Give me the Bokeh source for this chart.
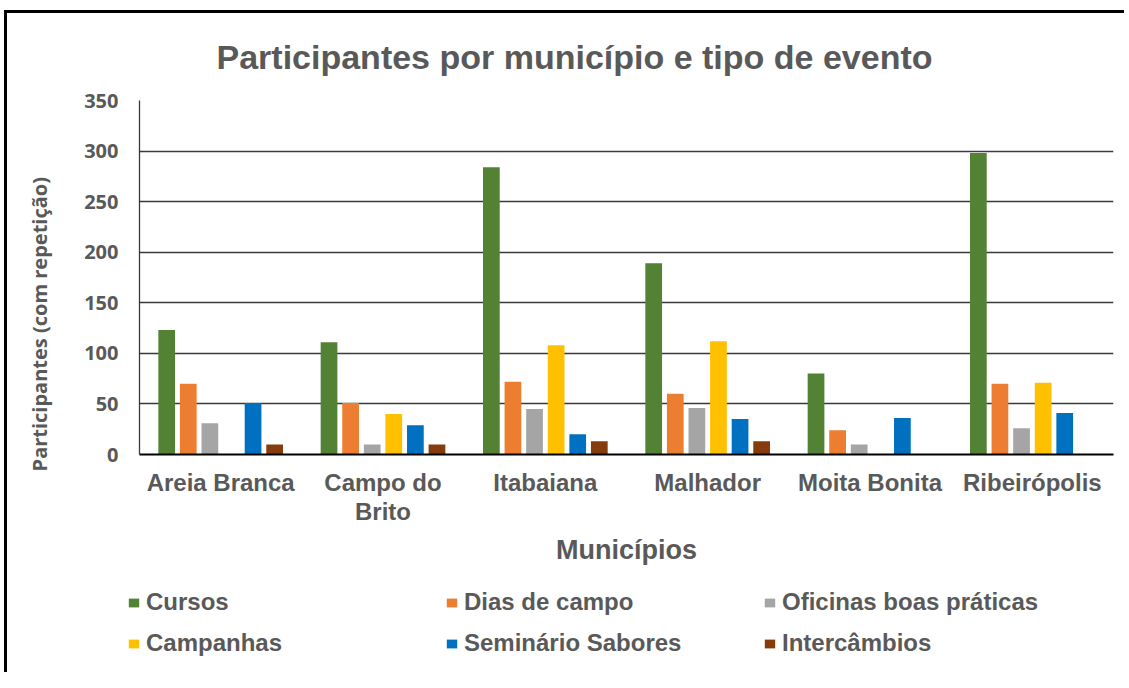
from bokeh.plotting import figure
from bokeh.models import (FactorRange, Range1d, ColumnDataSource, Legend,
                          LegendItem, FixedTicker, CategoricalAxis)
from bokeh.transform import dodge
from bokeh.embed import file_html
from bokeh.resources import INLINE

# ---------------- data ----------------
municipios = ["Areia Branca", "Campo do Brito", "Itabaiana", "Malhador",
              "Moita Bonita", "Ribeirópolis"]
# tick labels, split on two lines (blank factors are distinct whitespace strings)
tick_labels_line1 = ["Areia Branca", "Campo do", "Itabaiana", "Malhador",
                     "Moita Bonita", "Ribeirópolis"]
tick_labels_line2 = [" ", "Brito", "  ", "   ", "    ", "     "]
cursos = [123, 111, 284, 189, 80, 298]
dias_de_campo = [70, 51, 72, 60, 24, 70]
oficinas_boas_praticas = [31, 10, 45, 46, 10, 26]
campanhas = [0, 40, 108, 112, 0, 71]
seminario_sabores = [51, 29, 20, 35, 36, 41]
intercambios = [10, 10, 13, 13, 0, 0]

series_names = ["Cursos", "Dias de campo", "Oficinas boas práticas",
                "Campanhas", "Seminário Sabores", "Intercâmbios"]
series_values = [cursos, dias_de_campo, oficinas_boas_praticas, campanhas,
                 seminario_sabores, intercambios]
colors = ["#548235", "#ED7D31", "#A5A5A5", "#FFC000", "#0070C0", "#843C0C"]
y_ticks = [0, 50, 100, 150, 200, 250, 300, 350]

title_text = "Participantes por município e tipo de evento"
x_title = "Municípios"
y_title = "Participantes (com repetição)"

TXT = "#595959"
ARIAL = "Liberation Sans"

W = 1120
p = figure(x_range=FactorRange(*municipios, range_padding=0),
           y_range=Range1d(0, 350), x_axis_location=None,
           width=W, height=562, output_backend="svg", toolbar_location=None,
           min_border_left=132, min_border_right=14, min_border_top=87,
           min_border_bottom=121)
p.styles = {"border-top": "3px solid black", "border-left": "3px solid black",
            "margin-left": "4px", "margin-top": "10px"}
p.extra_x_ranges = {"l1": FactorRange(*tick_labels_line1, range_padding=0),
                    "l2": FactorRange(*tick_labels_line2, range_padding=0)}

p.title.text = title_text
p.title.align = "left"
p.title.vertical_align = "top"
p.title.offset = 77
p.title.standoff = 46
p.title.text_font = ARIAL
p.title.text_font_size = "34px"
p.title.text_font_style = "bold"
p.title.text_color = TXT

data = {"mun": municipios}
for name, vals in zip(series_names, series_values):
    data[name] = vals
src = ColumnDataSource(data)

pitch = 0.133
bw = 0.103
for i, (name, col) in enumerate(zip(series_names, colors)):
    off = (i - 2.5) * pitch
    p.vbar(x=dodge("mun", off, range=p.x_range), top=name, width=bw,
           source=src, fill_color=col, line_color=None)

# ---------------- axes ----------------
p.outline_line_color = None
p.xgrid.visible = False
p.ygrid.grid_line_color = "#3a3a3a"
p.ygrid.grid_line_width = 1.3
yax = p.yaxis[0]
yax.ticker = FixedTicker(ticks=y_ticks)
yax.axis_line_color = "#3a3a3a"
yax.axis_line_width = 1.3
yax.major_tick_line_color = None
yax.minor_tick_line_color = None
yax.major_label_text_font = "Open Sans"
yax.major_label_text_font_size = "20px"
yax.major_label_text_font_style = "bold"
yax.major_label_text_color = TXT
yax.major_label_standoff = 15
# trailing no-break spaces push the centred title down, as in the reference
yax.axis_label = y_title + "\u00a0" * 18
yax.axis_label_text_font = "Open Sans"
yax.axis_label_text_font_size = "20px"
yax.axis_label_text_font_style = "bold"
yax.axis_label_text_color = TXT
yax.axis_label_standoff = 28

lab = dict(major_tick_line_color=None, minor_tick_line_color=None,
           major_label_text_font=ARIAL, major_label_text_font_size="24px",
           major_label_text_font_style="bold", major_label_text_color=TXT)
ax1 = CategoricalAxis(x_range_name="l1", axis_line_color="black",
                      axis_line_width=2, major_label_standoff=8, **lab)
p.add_layout(ax1, "below")
ax2 = CategoricalAxis(x_range_name="l2", axis_line_color=None,
                      major_label_standoff=-7,
                      axis_label=x_title, axis_label_text_font=ARIAL,
                      axis_label_text_font_size="27px",
                      axis_label_text_font_style="bold",
                      axis_label_text_color=TXT, axis_label_standoff=7, **lab)
p.add_layout(ax2, "below")

# ---------------- legend (own strip below the chart) ----------------
lf = figure(width=W, height=100, x_range=Range1d(0, 1), y_range=Range1d(0, 1),
            x_axis_location=None, y_axis_location=None, min_border=0,
            output_backend="svg", toolbar_location=None)
lf.styles = {"border-left": "3px solid black", "margin-left": "4px"}
lf.outline_line_color = None
lf.grid.visible = False
keys = []
for name, col in zip(series_names, colors):
    # key renderers sit outside the visible range; only their legend swatch shows
    keys.append(lf.vbar(x=[5], top=[0.5], width=0.1, fill_color=col, line_color=None))

rows = [[0, 1, 2], [3, 4, 5]]
row_y = [56, 15]
for idxs, yy in zip(rows, row_y):
    items = [LegendItem(label=series_names[k], renderers=[keys[k]]) for k in idxs]
    lg = Legend(items=items, location=(120, yy), orientation="horizontal",
                glyph_width=13, glyph_height=11, label_standoff=6,
                label_width=286, padding=0, margin=0, spacing=13,
                border_line_color=None, background_fill_alpha=0,
                label_text_font=ARIAL, label_text_font_size="24px",
                label_text_font_style="bold", label_text_color=TXT)
    lf.add_layout(lg)

open("out.html", "w").write(file_html([p, lf], INLINE))
